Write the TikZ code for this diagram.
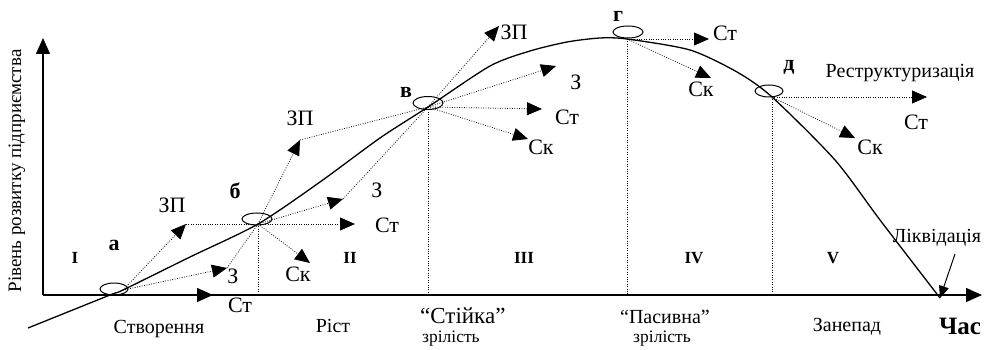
\documentclass[tikz,border=0pt]{standalone}
\usepackage{fontspec}
\setmainfont{Liberation Serif}
\usetikzlibrary{arrows.meta,shapes.geometric}

\tikzset{
  ray/.style={-{Triangle[length=15pt,width=13pt]}, line width=0.8pt, dash pattern=on 0.8pt off 1.6pt},
  link/.style={line width=0.8pt, dash pattern=on 0.8pt off 1.6pt},
  axis/.style={-{Triangle[length=16pt,width=14pt]}, line width=1.4pt},
  ring/.style={draw, ellipse, line width=1pt, inner sep=0pt, minimum width=29pt, minimum height=12pt},
  lbl/.style={font=\fontsize{22}{24}\selectfont, inner sep=0pt},
  txt/.style={font=\fontsize{20}{22}\selectfont, inner sep=0pt},
  pnt/.style={font=\fontsize{22}{24}\selectfont\bfseries, inner sep=0pt},
  stage/.style={font=\fontsize{17}{19}\selectfont\bfseries, inner sep=0pt}
}

\begin{document}
\begin{tikzpicture}[x=1pt, y=-1pt]
\useasboundingbox (0,0) rectangle (986,350);
% 1 unit = 1 pixel of the 986x350 frame, y downwards
\coordinate (O) at (43,295);
\coordinate (s) at (28,328);
\coordinate (a) at (123,290);
\coordinate (b) at (258,224);
\coordinate (v) at (428,107);
\coordinate (g) at (627,39);
\coordinate (d) at (772,97);
\coordinate (e) at (940,298);

% axes
\draw[axis] (O) -- (43,38) coordinate (ytop);
\draw[axis] (O) -- (982,295) coordinate (xend);
\node[font=\fontsize{19}{21}\selectfont, inner sep=0pt, rotate=90] (ylab) at (17,171) {Рівень розвитку підприємства};
\node[font=\fontsize{25}{27}\selectfont\bfseries, inner sep=0pt] (time) at (960,326) {Час};

% life-cycle curve
\draw[line width=1.3pt] plot[smooth, tension=0.45] coordinates {(s) (110,295) (a) (190,257) (b) (320,182) (380,138) (v) (490,66) (530,51) (567,42) (600,38) (g) (690,50) (737,72) (d) (835,160) (880,220) (e)};

% dotted drops to the time axis
\foreach \p in {b,v,g,d} {\draw[link] (\p) -- (\p |- O);}

% rings on the curve
\node[ring, minimum width=28pt] (ra) at (114,289) {};
\node[ring, minimum width=30pt] (rb) at (257,219) {};
\node[ring, minimum width=30pt, minimum height=13pt] (rv) at (428,103) {};
\node[ring, minimum width=30pt] (rg) at (628,32) {};
\node[ring, minimum width=28pt] (rd) at (769,91) {};

\node[pnt] (la) at (114,245) {а};
\node[pnt] (lb) at (235,191) {б};
\node[pnt] (lv) at (406,92) {в};
\node[pnt] (lg) at (618,16) {г};
\node[pnt] (ld) at (789,67) {д};

% point a
\coordinate (aZP) at (186,224);
\coordinate (aZ) at (227,268);
\coordinate (aSt) at (213,295);
\draw[ray] (a) -- (aZP);
\draw[ray] (a) -- (aZ);
\draw[axis] (a |- O) -- (aSt);
\draw[link] (aZP) -- (b);
\draw[link] (aZ) -- (b);
\node[lbl] (naZP) at (172,205) {ЗП};
\node[lbl] (naZ) at (233,276) {З};
\node[lbl] (naSt) at (240,305) {Ст};

% point b
\coordinate (bZP) at (300,140);
\coordinate (bZ) at (343,199);
\coordinate (bSt) at (355,224);
\coordinate (bSk) at (310,263);
\draw[ray] (b) -- (bZP);
\draw[ray] (b) -- (bZ);
\draw[ray] (b) -- (bSt);
\draw[ray] (b) -- (bSk);
\draw[link] (bZP) -- (v);
\draw[link] (bZ) -- (v);
\node[lbl] (nbZP) at (300,118) {ЗП};
\node[lbl] (nbZ) at (377,190) {З};
\node[lbl] (nbSt) at (387,225) {Ст};
\node[lbl] (nbSk) at (298,274) {Ск};

% point v
\coordinate (vZP) at (499,26);
\coordinate (vZ) at (556,66);
\coordinate (vSt) at (542,109);
\coordinate (vSk) at (528,139);
\draw[ray] (v) -- (vZP);
\draw[ray] (v) -- (vZ);
\draw[ray] (v) -- (vSt);
\draw[ray] (v) -- (vSk);
\node[lbl] (nvZP) at (514,32) {ЗП};
\node[lbl] (nvZ) at (576,82) {З};
\node[lbl] (nvSt) at (567,117) {Ст};
\node[lbl] (nvSk) at (541,147) {Ск};

% point g
\coordinate (gSt) at (709,39);
\coordinate (gSk) at (711,78);
\draw[ray] (g) -- (gSt);
\draw[ray] (g) -- (gSk);
\node[lbl] (ngSt) at (725,33) {Ст};
\node[lbl] (ngSk) at (701,89) {Ск};

% point d
\coordinate (dSt) at (927,97);
\coordinate (dSk) at (855,138);
\draw[ray] (d) -- (dSt);
\draw[ray] (d) -- (dSk);
\node[txt] (restr) at (900,73) {Реструктуризація};
\node[lbl] (ndSt) at (916,122) {Ст};
\node[lbl] (ndSk) at (870,147) {Ск};

% liquidation
\node[txt] (liq) at (937,238) {Ліквідація};
\coordinate (lq) at (955,254);
\draw[-{Triangle[length=12pt,width=10pt]}, line width=1pt] (lq) -- (e);

% stages
\foreach \x/\r in {75/I, 350/II, 524/III, 694/IV, 833/V} {\node[stage] (st\r) at (\x,258) {\r};}
\node[txt] (create) at (159,329) {Створення};
\node[txt] (grow) at (333,326) {Ріст};
\node[font=\fontsize{23}{25}\selectfont, inner sep=0pt, anchor=west] (stable) at (420,316) {“Стійка”};
\node[font=\fontsize{17.5}{19}\selectfont, inner sep=0pt, anchor=west] (mat1) at (422,339) {зрілість};
\node[txt] (passive) at (665,317) {“Пасивна”};
\node[font=\fontsize{17.5}{19}\selectfont, inner sep=0pt] (mat2) at (662,339) {зрілість};
\node[txt] (decline) at (847,327) {Занепад};
\end{tikzpicture}
\end{document}
